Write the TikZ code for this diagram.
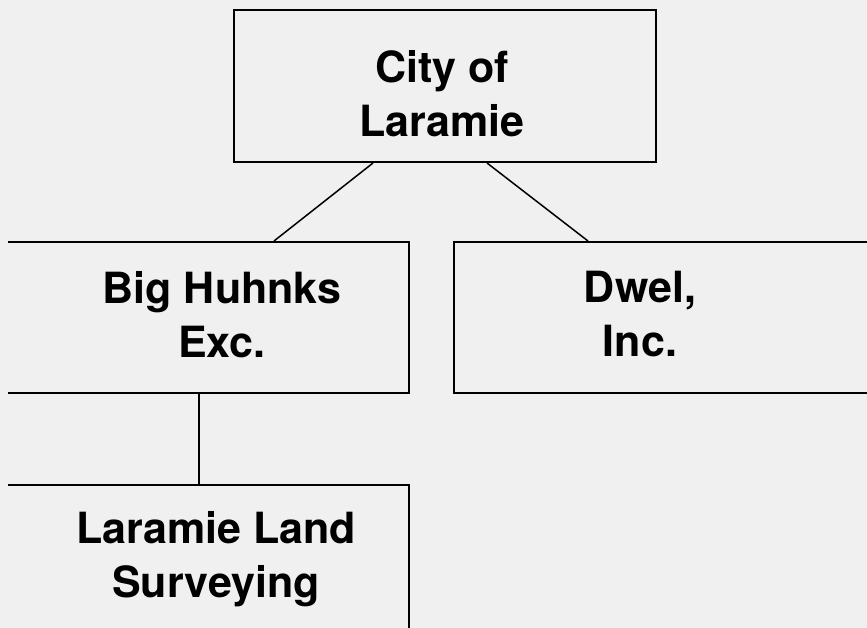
\documentclass[tikz,border=0pt]{standalone}
\usepackage{fontspec}
\setmainfont{TeX Gyre Heros}
\usepackage{tikz}
\definecolor{pagegray}{HTML}{F0F0F0}
\tikzset{
  orgbox/.style={draw, line width=2pt, inner sep=0pt, minimum width=450pt, minimum height=151pt},
  orglabel/.style={align=center, inner sep=0pt, font=\fontsize{43}{54}\selectfont\bfseries},
  link/.style={line width=1.5pt}
}

\begin{document}
\begin{tikzpicture}[x=1pt, y=-1pt]
  \fill[pagegray] (0,0) rectangle (867,628);
  \useasboundingbox (0,0) rectangle (867,628);
  \clip (8,0) rectangle (867,628);

  % boxes
  \node[orgbox, minimum width=422pt, minimum height=152pt] (city) at (445,86) {};
  \node[orgbox] (huhnks) at (184,317.5) {};
  \node[orgbox] (dwel) at (679,317.5) {};
  \node[orgbox] (survey) at (184,560.5) {};

  % texts
  \node[orglabel] (citytext) at (442,94) {City of\\Laramie};
  \node[orglabel] (huhnkstext) at (222,315) {Big Huhnks\\Exc.};
  \node[orglabel] (dweltext) at (640,314.5) {Dwel,\\Inc.};
  \node[orglabel] (surveytext) at (216,559.5) {Laramie Land\\Surveying};

  % links
  \draw[link] ([xshift=-72pt]city.south) -- ([xshift=90pt]huhnks.north);
  \draw[link] ([xshift=42pt]city.south) -- ([xshift=-91pt]dwel.north);
  \draw[link] ([xshift=15pt]huhnks.south) -- ([xshift=15pt]survey.north);
\end{tikzpicture}
\end{document}
